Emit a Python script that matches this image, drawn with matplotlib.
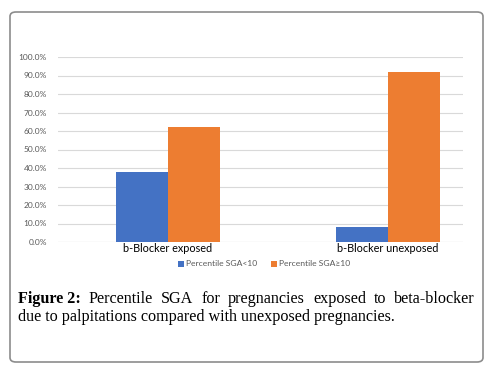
import matplotlib
matplotlib.use("Agg")
import matplotlib.pyplot as plt
from matplotlib.patches import FancyBboxPatch
import numpy as np

categories = ["b-Blocker exposed", "b-Blocker unexposed"]
series_names = ["Percentile SGA<10", "Percentile SGA\u226510"]
sga_lt10 = [37.8, 8.1]
sga_ge10 = [62.2, 91.9]
yticks = [0, 10, 20, 30, 40, 50, 60, 70, 80, 90, 100]
caption_bold = "Figure 2:"
caption_line1 = "Percentile SGA for pregnancies exposed to beta-blocker"
caption_line2 = "due to palpitations compared with unexposed pregnancies."

W, H = 496, 369
fig = plt.figure(figsize=(W / 100, H / 100), dpi=100)

border = FancyBboxPatch((10 / W, 1 - 362 / H), (483 - 10) / W, (362 - 12) / H,
                        boxstyle="round,pad=0,rounding_size=0.012",
                        transform=fig.transFigure, fill=False,
                        edgecolor="#8c8c8c", linewidth=1.2)
fig.patches.append(border)

ax = fig.add_axes([58 / W, 1 - 242 / H, (463 - 58) / W, (242 - 57) / H])
x = np.arange(len(categories))
bw = 0.236
ax.bar(x - bw / 2, sga_lt10, width=bw, color="#4472C4", label=series_names[0], zorder=3)
ax.bar(x + bw / 2, sga_ge10, width=bw, color="#ED7D31", label=series_names[1], zorder=3)
ax.set_ylim(0, 100)
ax.set_xlim(-0.5, 1.34)
ax.set_yticks(yticks)
ax.set_yticklabels([f"{v:.1f}%" for v in yticks], fontsize=6, color="#595959", family="Lato")
ax.set_xticks(x)
ax.set_xticklabels(categories, fontsize=7.8, color="#000000", family="Lato")
ax.tick_params(axis="both", length=0)
ax.tick_params(axis="y", pad=8)
ax.tick_params(axis="x", pad=1)
ax.grid(axis="y", color="#d9d9d9", linewidth=0.8, zorder=0)
for s in ax.spines.values():
    s.set_visible(False)
ax.axhline(0, color="#d0d0d0", linewidth=0.8, zorder=1)

leg = fig.legend(loc="center", bbox_to_anchor=(264 / W, 1 - 264 / H), ncol=2,
                 frameon=False, handlelength=0.7, handleheight=0.7,
                 handletextpad=0.3, columnspacing=1.6, prop={"family": "Lato", "size": 6.1})
for t in leg.get_texts():
    t.set_color("#595959")

fig.canvas.draw()
r = fig.canvas.get_renderer()
fs = 11.6
fam = "Liberation Serif"
left_px, right_px = 18, 475
y1 = 1 - 303 / H
y2 = 1 - 321 / H
words = [caption_bold] + caption_line1.split(" ")
objs = []
widths = []
for i, w in enumerate(words):
    t = fig.text(0, y1, w, fontsize=fs, family=fam,
                 weight="bold" if i == 0 else "normal", va="baseline", ha="left")
    widths.append(t.get_window_extent(r).width)
    objs.append(t)
gap = (right_px - left_px - sum(widths)) / (len(words) - 1)
cur = left_px
for t, wd in zip(objs, widths):
    t.set_x(cur / W)
    cur += wd + gap
fig.text(left_px / W, y2, caption_line2, fontsize=fs, family=fam, va="baseline", ha="left")

fig.savefig("out.png", dpi=100)
